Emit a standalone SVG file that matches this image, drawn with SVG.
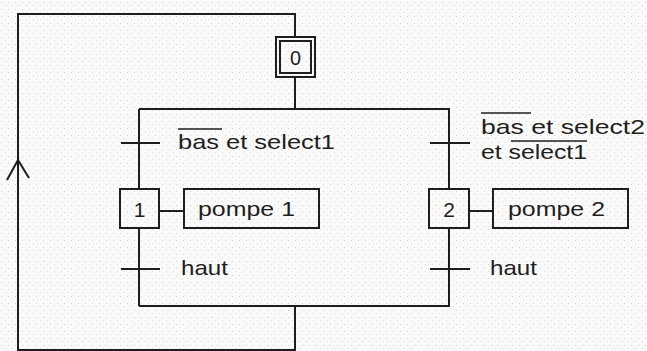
<svg xmlns="http://www.w3.org/2000/svg" width="647" height="351" viewBox="0 0 647 351">
<defs>
<pattern id="dots" width="7" height="7" patternUnits="userSpaceOnUse">
<rect width="7" height="7" fill="#fbfafa"/>
<rect x="1" y="2" width="1" height="1" fill="#d8d0d2"/>
<rect x="5" y="5" width="1" height="1" fill="#e2dadc"/>
</pattern>
<style>
.ln{stroke:#1e1e1e;stroke-width:2;fill:none}
.box{stroke:#1e1e1e;stroke-width:2;fill:none}
.t{font-family:"Liberation Sans",Arial,sans-serif;font-size:21px;fill:#1e1e1e}
.n{font-family:"Liberation Sans",Arial,sans-serif;font-size:21px;fill:#1e1e1e}
.ov{stroke:#1e1e1e;stroke-width:1.5}
</style>
</defs>
<rect width="647" height="351" fill="url(#dots)"/>
<g id="connectors">
<polyline class="ln" points="295,37 295,14 18,14 18,350 295,350 295,306"/>
<polyline class="ln" points="7,180 18,160 29,178"/>
<line class="ln" x1="295" y1="77" x2="295" y2="109"/>
<line class="ln" x1="139" y1="109" x2="450" y2="109"/>
<line class="ln" x1="139" y1="109" x2="139" y2="189"/>
<line class="ln" x1="449" y1="109" x2="449" y2="189"/>
<line class="ln" x1="139" y1="228" x2="139" y2="306"/>
<line class="ln" x1="449" y1="228" x2="449" y2="306"/>
<line class="ln" x1="139" y1="306" x2="450" y2="306"/>
<line class="ln" x1="159" y1="211" x2="184" y2="211"/>
<line class="ln" x1="469" y1="211" x2="493" y2="211"/>
</g>
<g id="step0">
<rect class="box" x="276" y="37" width="39" height="40"/>
<rect class="box" x="280" y="41" width="31" height="32"/>
<text class="n" x="295.5" y="65" text-anchor="middle" font-size="24" textLength="11" lengthAdjust="spacingAndGlyphs">0</text>
</g>
<g id="t1">
<line class="ln" x1="121" y1="143" x2="160" y2="143"/>
<text class="t" x="178" y="149" textLength="157" lengthAdjust="spacingAndGlyphs">bas et select1</text>
<line class="ov" x1="178" y1="129" x2="222" y2="129"/>
</g>
<g id="t2">
<line class="ln" x1="430" y1="143" x2="470" y2="143"/>
<text class="t" x="481" y="134" textLength="164" lengthAdjust="spacingAndGlyphs">bas et select2</text>
<line class="ov" x1="481" y1="113" x2="531" y2="113"/>
<text class="t" x="481" y="159" textLength="106" lengthAdjust="spacingAndGlyphs">et select1</text>
<line class="ov" x1="511" y1="141" x2="587" y2="141"/>
</g>
<g id="step1">
<rect class="box" x="120" y="189" width="39" height="39"/>
<text class="n" x="139.5" y="217" text-anchor="middle">1</text>
</g>
<g id="action1">
<rect class="box" x="184" y="189" width="135" height="39"/>
<text class="t" x="198" y="216" textLength="97" lengthAdjust="spacingAndGlyphs">pompe 1</text>
</g>
<g id="step2">
<rect class="box" x="429" y="189" width="40" height="39"/>
<text class="n" x="449" y="217" text-anchor="middle">2</text>
</g>
<g id="action2">
<rect class="box" x="493" y="189" width="135" height="39"/>
<text class="t" x="508" y="216" textLength="97" lengthAdjust="spacingAndGlyphs">pompe 2</text>
</g>
<g id="t3">
<line class="ln" x1="121" y1="269" x2="160" y2="269"/>
<text class="t" x="181" y="275" textLength="47" lengthAdjust="spacingAndGlyphs">haut</text>
</g>
<g id="t4">
<line class="ln" x1="430" y1="269" x2="470" y2="269"/>
<text class="t" x="490" y="275" textLength="47" lengthAdjust="spacingAndGlyphs">haut</text>
</g>
</svg>
